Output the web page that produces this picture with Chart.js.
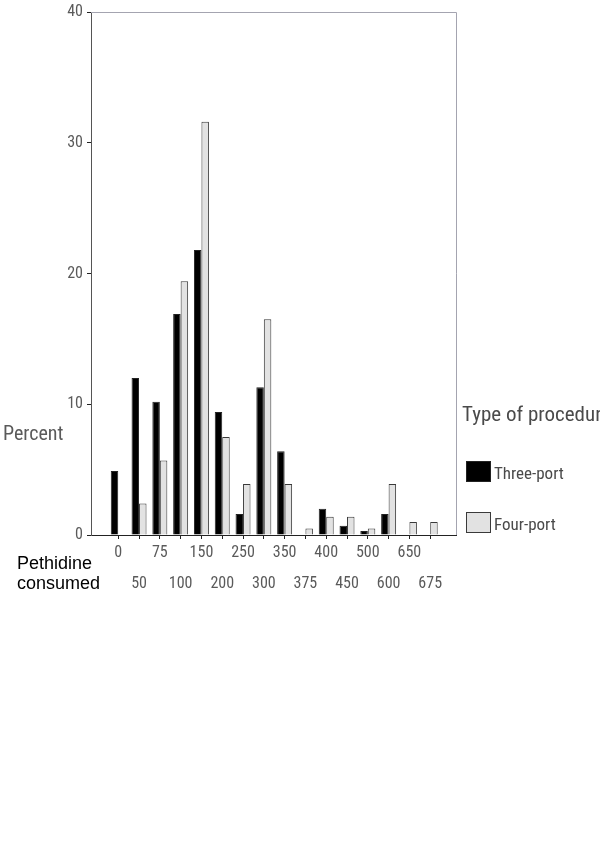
<!DOCTYPE html>
<html>
<head>
<meta charset="utf-8">
<script src="https://cdn.jsdelivr.net/npm/chart.js@4.4.1/dist/chart.umd.min.js"></script>
<style>
  html, body { margin: 0; padding: 0; background: #fff; }
  #wrap { width: 600px; height: 850px; }
</style>
</head>
<body>
<div id="wrap"><canvas id="pethidineChart" width="600" height="850"></canvas></div>
<script>
// Pethidine consumed (mg) categories and percent of patients per group
const doses = ["0", "50", "75", "100", "150", "200", "250", "300", "350", "375", "400", "450", "500", "600", "650", "675"];
const threePort = [4.9, 12.0, 10.2, 16.9, 21.8, 9.4, 1.6, 11.3, 6.4, 0, 2.0, 0.7, 0.3, 1.6, 0, 0];
const fourPort = [0, 2.4, 5.7, 19.4, 31.6, 7.5, 3.9, 16.5, 3.9, 0.5, 1.4, 1.4, 0.5, 3.9, 1.0, 1.0];
const percentTicks = [0, 10, 20, 30, 40];
const seriesNames = ["Three-port", "Four-port"];

const narrow = "'Roboto Condensed', 'Liberation Sans Narrow', sans-serif";
const grayText = "#5a5a5a";

// frame, axis captions and legend drawn straight on the canvas
const extrasPlugin = {
  id: "extras",
  beforeDatasetsDraw(chart) {
    const { ctx, chartArea: a } = chart;
    ctx.save();
    ctx.strokeStyle = "#a4a4b0";
    ctx.lineWidth = 1;
    ctx.beginPath();
    ctx.moveTo(a.left, a.top + 0.5);
    ctx.lineTo(a.right + 0.5, a.top + 0.5);
    ctx.lineTo(a.right + 0.5, a.bottom);
    ctx.stroke();
    ctx.restore();
  },
  afterDraw(chart) {
    const { ctx, chartArea: a } = chart;
    ctx.save();
    ctx.textBaseline = "alphabetic";
    ctx.fillStyle = grayText;
    ctx.font = "20px " + narrow;
    ctx.fillText("Percent", 3, 440);

    ctx.fillStyle = "#000";
    ctx.font = "18px 'Liberation Sans', Arial, sans-serif";
    ctx.fillText("Pethidine", 17, 569);
    ctx.fillText("consumed", 17, 589);

    // legend
    ctx.fillStyle = "#4a4a4a";
    ctx.font = "21px " + narrow;
    ctx.fillText("Type of procedure", a.right + 6, 421);
    chart.data.datasets.forEach((ds, i) => {
      const y = 461 + i * 51;
      ctx.fillStyle = ds.backgroundColor;
      ctx.fillRect(a.right + 10, y, 25, 21);
      ctx.strokeStyle = ds.borderColor;
      ctx.lineWidth = 1;
      ctx.strokeRect(a.right + 10.5, y + 0.5, 24, 20);
      ctx.fillStyle = "#4a4a4a";
      ctx.font = "17px " + narrow;
      ctx.fillText(ds.label, a.right + 38, y + 18);
    });
    ctx.restore();
  }
};

const ctx = document.getElementById("pethidineChart").getContext("2d");

new Chart(ctx, {
  type: "bar",
  data: {
    datasets: [
      {
        label: seriesNames[0],
        data: threePort.map((v, i) => ({ x: i, y: v })),
        backgroundColor: "#000000",
        borderColor: "#222222",
        borderWidth: 1,
      },
      {
        label: seriesNames[1],
        data: fourPort.map((v, i) => ({ x: i, y: v })),
        backgroundColor: "#e2e2e2",
        borderColor: "#3a3a3a",
        borderWidth: 1,
      },
    ],
  },
  options: {
    responsive: false,
    animation: false,
    layout: { padding: { top: 9, right: 144, left: 0, bottom: 0 } },
    datasets: { bar: { categoryPercentage: 0.72, barPercentage: 1 } },
    plugins: {
      legend: { display: false },
      tooltip: { enabled: false },
    },
    scales: {
      x: {
        type: "linear",
        offset: false,
        min: -1.31,
        max: 16.24,
        afterBuildTicks: (s) => { s.ticks = doses.map((d, i) => ({ value: i })); },
        afterFit: (s) => { s.height = 315; },
        grid: { offset: false, drawOnChartArea: false, tickLength: 4, color: "#222" },
        border: { color: "#222" },
        ticks: {
          color: grayText,
          font: { family: narrow, size: 16, lineHeight: 1.94 },
          padding: -2,
          maxRotation: 0,
          autoSkip: false,
          callback: (v, i) => (i % 2 === 0 ? [doses[i], ""] : ["", doses[i]]),
        },
      },
      y: {
        min: 0,
        max: 40,
        afterBuildTicks: (s) => { s.ticks = percentTicks.map((v) => ({ value: v })); },
        afterFit: (s) => { s.width = 91; },
        grid: { drawOnChartArea: false, tickLength: 4, color: "#222" },
        border: { color: "#555" },
        ticks: {
          color: grayText,
          font: { family: narrow, size: 16, lineHeight: 1 },
          padding: 4,
        },
      },
    },
  },
  plugins: [extrasPlugin],
});
</script>
</body>
</html>
